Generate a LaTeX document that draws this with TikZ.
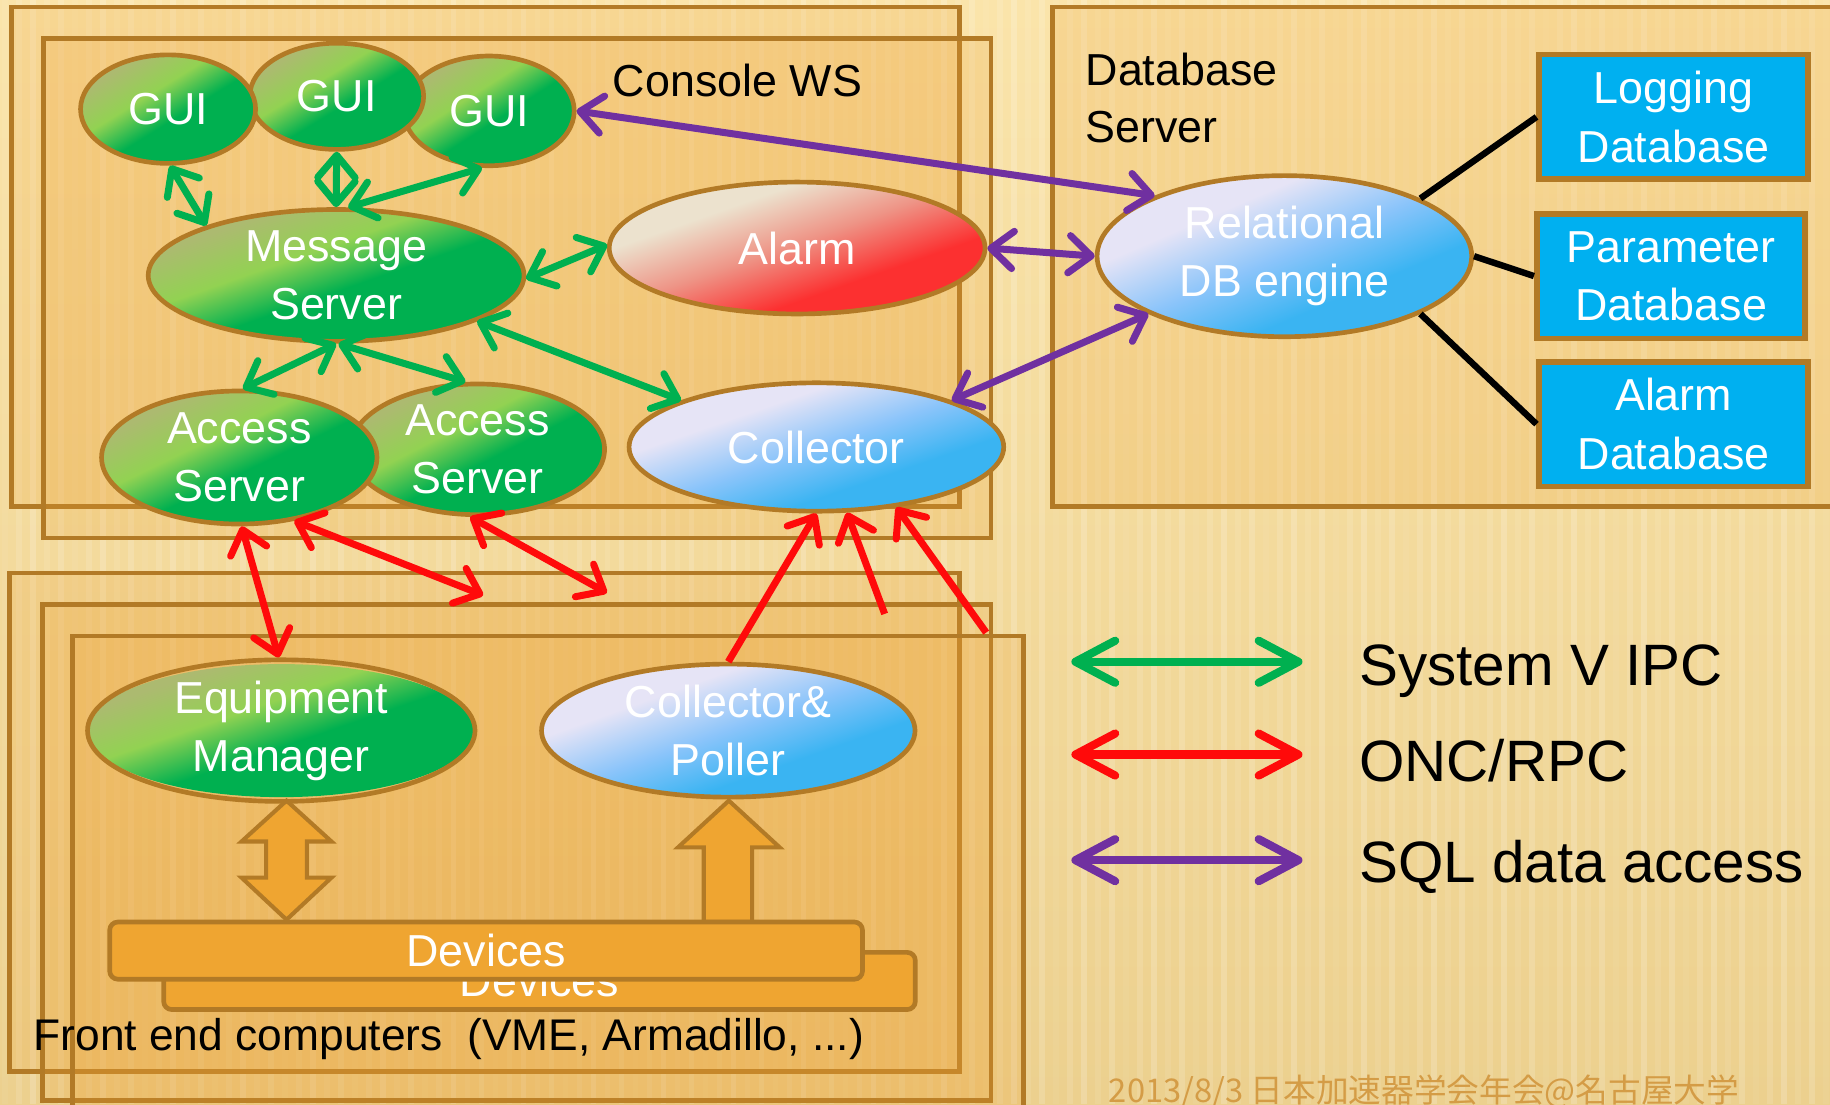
\documentclass[tikz,border=0pt]{standalone}
\usepackage{fontspec}
\setmainfont{Liberation Sans}
\newfontfamily\cjkfont{Noto Sans CJK JP}
\usetikzlibrary{arrows.meta,shapes.geometric}

% palette
\definecolor{brd}{RGB}{178,122,38}
\definecolor{grpfill}{RGB}{236,160,50}
\definecolor{devorange}{RGB}{239,165,49}
\definecolor{dbblue}{RGB}{0,176,240}
\definecolor{ipcgreen}{RGB}{0,176,80}
\definecolor{rpcred}{RGB}{255,10,10}
\definecolor{sqlpurple}{RGB}{112,48,160}
\definecolor{footc}{RGB}{212,156,70}
\definecolor{bgtop}{RGB}{250,228,170}
\definecolor{bgbot}{RGB}{236,208,142}
% oval gradients
\definecolor{gdk}{RGB}{0,176,80}
\definecolor{glt}{RGB}{146,210,82}
\definecolor{gtn}{RGB}{172,186,112}
\definecolor{bdk}{RGB}{58,180,242}
\definecolor{bmd}{RGB}{138,196,250}
\definecolor{blt}{RGB}{230,228,246}
\definecolor{rdk}{RGB}{252,48,48}
\definecolor{rmd}{RGB}{238,148,134}
\definecolor{rlt}{RGB}{236,226,206}

\pgfdeclareverticalshading{greenfill}{100bp}{color(0bp)=(gdk); color(47bp)=(gdk); color(56bp)=(glt); color(66bp)=(gtn); color(100bp)=(gtn)}
\pgfdeclareverticalshading{bluefill}{100bp}{color(0bp)=(bdk); color(40bp)=(bdk); color(50bp)=(bmd); color(61bp)=(blt); color(100bp)=(blt)}
\pgfdeclareverticalshading{redfill}{100bp}{color(0bp)=(rdk); color(40bp)=(rdk); color(51bp)=(rmd); color(62bp)=(rlt); color(100bp)=(rlt)}

% diagonal gradient inside an ellipse: centre x, centre y, width, height, shading
\newcommand\ovalfill[5]{%
  \begin{scope}
    \clip (#1,#2) ellipse [x radius={#3/2}, y radius={#4/2}];
    \begin{scope}[transform canvas={shift={(#1,#2)}, xscale={#3/100}, yscale={#4/100}, rotate=45}]
      \shade[shading=#5] (-72,-72) rectangle (72,72);
    \end{scope}
  \end{scope}}

\tikzset{
  every node/.style={inner sep=0pt},
  txt/.style={font=\fontsize{38.4}{50}\selectfont, align=center, text=white},
  lbl/.style={font=\fontsize{38.4}{50}\selectfont, text=black},
  leg/.style={font=\fontsize{50}{60}\selectfont, text=black},
  oval/.style={ellipse, draw=brd, line width=4pt, txt},
  grp/.style={draw=brd, line width=4pt, fill=grpfill, fill opacity=0.2},
  dbbox/.style={rectangle, draw=brd, line width=5pt, fill=dbblue, txt},
  devbar/.style={rectangle, rounded corners=7pt, draw=brd, line width=4pt, fill=devorange, txt},
  blockarrow/.style={draw=brd, line width=3.5pt, fill=devorange, line join=miter},
  conn/.style={line width=6pt, >={Straight Barb[length=19pt,width=32pt,round]}},
  ipc/.style={conn, draw=ipcgreen, <->},
  rpc/.style={conn, draw=rpcred, <->},
  rpcone/.style={conn, draw=rpcred, ->},
  sql/.style={conn, draw=sqlpurple, <->},
  dbline/.style={draw=black, line width=5.5pt},
  legarrow/.style={line width=7pt, line cap=round, >={Straight Barb[length=34pt,width=36pt,round]}, <->},
}

\begin{document}
\begin{tikzpicture}[x=1pt,y=-1pt]
\useasboundingbox (0,0) rectangle (1568,946);
\clip (0,0) rectangle (1568,946);

% paper background with vertical grain
\shade[top color=bgtop, bottom color=bgbot] (0,0) rectangle (1568,946);
\foreach \i in {0,...,130} {
  \pgfmathsetmacro\op{0.05+0.035*mod(\i*7,5)}
  \fill[white, opacity=\op] ({\i*12+2},0) rectangle ({\i*12+7},946);
}

% console workstation group
\draw[grp] (10,6) rectangle (822,434);
\draw[grp] (37,33) rectangle (849,461);
% database server group
\draw[grp] (902,6) rectangle (1600,434);
% stacked front end computers
\draw[grp] (8,491) rectangle (822,918);
\draw[grp] (36.5,518) rectangle (849,943);
\draw[grp] (62,545) rectangle (877,990);

% device access block arrows
\draw[blockarrow] (245.5,686) -- (284,721) -- (263,721) -- (263,752) -- (284,752)
  -- (245.5,788) -- (207,752) -- (228,752) -- (228,721) -- (207,721) -- cycle;
\draw[blockarrow] (624.5,686) -- (668,726) -- (644.5,726) -- (644.5,790) -- (603,790)
  -- (603,726) -- (581,726) -- cycle;

% device bars
\node[devbar, minimum width=644pt, minimum height=49pt] (dev2) at (462.25,840.5) {Devices};
\node[devbar, minimum width=645pt, minimum height=49pt] (dev1) at (416.5,814.5) {Devices};

% processes
\ovalfill{419}{95}{146}{94}{greenfill}
\node[oval, minimum width=146pt, minimum height=94pt] (gui3) at (419,95) {GUI};
\ovalfill{288.5}{82.5}{149}{91}{greenfill}
\node[oval, minimum width=149pt, minimum height=91pt] (gui2) at (288.5,82.5) {GUI};
\ovalfill{144}{93.5}{150}{93}{greenfill}
\node[oval, minimum width=150pt, minimum height=93pt] (gui1) at (144,93.5) {GUI};
\ovalfill{288}{236}{322}{113}{greenfill}
\node[oval, minimum width=322pt, minimum height=113pt] (ms) at (288,236) {Message\\Server};
\ovalfill{683}{212.5}{322}{113}{redfill}
\node[oval, minimum width=322pt, minimum height=113pt] (alarm) at (683,212.5) {Alarm};
\ovalfill{409}{385}{218}{112}{greenfill}
\node[oval, minimum width=218pt, minimum height=112pt] (as2) at (409,385) {Access\\Server};
\ovalfill{205}{392}{236}{114}{greenfill}
\node[oval, minimum width=236pt, minimum height=114pt] (as1) at (205,392) {Access\\Server};
\ovalfill{699.5}{383}{321}{110}{bluefill}
\node[oval, minimum width=321pt, minimum height=110pt] (coll) at (699.5,383) {Collector};
\ovalfill{241}{626}{332}{114}{greenfill}
\node[oval, minimum width=332pt, minimum height=114pt] (eqm) at (241,626) {Equipment\\Manager};
\ovalfill{624}{626}{320}{114}{bluefill}
\node[oval, minimum width=320pt, minimum height=114pt] (cp) at (624,626) {Collector\&\\Poller};
\ovalfill{1100.5}{219.5}{321}{138}{bluefill}
\node[oval, minimum width=321pt, minimum height=138pt] (rdb) at (1100.5,219.5) {Relational\\DB engine};

% databases
\node[dbbox, minimum width=230pt, minimum height=107pt] (logdb) at (1434,100.2) {Logging\\Database};
\node[dbbox, minimum width=230pt, minimum height=107pt] (pardb) at (1431.8,236.5) {Parameter\\Database};
\node[dbbox, minimum width=230pt, minimum height=107pt] (almdb) at (1434,363.4) {Alarm\\Database};

% group labels
\node[lbl, anchor=base west] (cws) at (525,83) {Console WS};
\node[lbl, anchor=base west] (dbs1) at (930,73.4) {Database};
\node[lbl, anchor=base west] (dbs2) at (930,122.5) {Server};
\node[lbl, anchor=base west, font=\fontsize{38}{46}\selectfont] (fec) at (28.5,900) {Front end computers\ \ (VME, Armadillo, ...)};

% System V IPC
\draw[ipc] (gui1.-88) -- (ms.159.5);
\draw[ipc] (gui2.south) -- (ms.north);
\draw[ipc] (gui3.-97) -- (ms.80);
\draw[ipc] (ms.-1) -- (alarm.179);
\draw[ipc] (ms.south) -- (as1.87);
\draw[ipc] (ms.-88) -- (as2.100);
\draw[ipc] (ms.-18) -- (coll.161);

% ONC/RPC
\coordinate (r2) at (414,510);
\coordinate (r3) at (520,508);
\coordinate (r5) at (758,526);
\coordinate (r6) at (845,542);
\draw[rpc] (as1.-88) -- (eqm.92);
\draw[rpc] (as1.-49) -- (r2);
\draw[rpc] (as2.-96) -- (r3);
\draw[rpcone] (cp.north) -- (coll.-90);
\draw[rpcone] (r5) -- (coll.-65);
\draw[rpcone] (r6) -- (coll.-37);

% SQL data access
\draw[sql] (gui3.east) -- (rdb.155);
\draw[sql] (alarm.east) -- (rdb.west);
\draw[sql] (coll.19) -- (rdb.-157);

% database links
\draw[dbline] (rdb.23.5) -- (logdb.west);
\draw[dbline] (rdb.east) -- (pardb.west);
\draw[dbline] (rdb.-23) -- (almdb.west);

% legend
\coordinate (lg1a) at (918,567);  \coordinate (lg1b) at (1116,567);
\coordinate (lg2a) at (918,646.5); \coordinate (lg2b) at (1116,646.5);
\coordinate (lg3a) at (918,737);  \coordinate (lg3b) at (1116,737);
\draw[legarrow, draw=ipcgreen] (lg1a) -- (lg1b);
\draw[legarrow, draw=rpcred] (lg2a) -- (lg2b);
\draw[legarrow, draw=sqlpurple] (lg3a) -- (lg3b);
\node[leg, anchor=base west] (lt1) at (1164.5,587) {System V IPC};
\node[leg, anchor=base west] (lt2) at (1164.5,670) {ONC/RPC};
\node[leg, anchor=base west] (lt3) at (1164.5,756.5) {SQL data access};

% footer
\node[anchor=base west, text=footc, font=\cjkfont\fontsize{28}{30}\selectfont] (foot) at (950,944.5) {2013/8/3 日本加速器学会年会@名古屋大学};
\end{tikzpicture}
\end{document}
